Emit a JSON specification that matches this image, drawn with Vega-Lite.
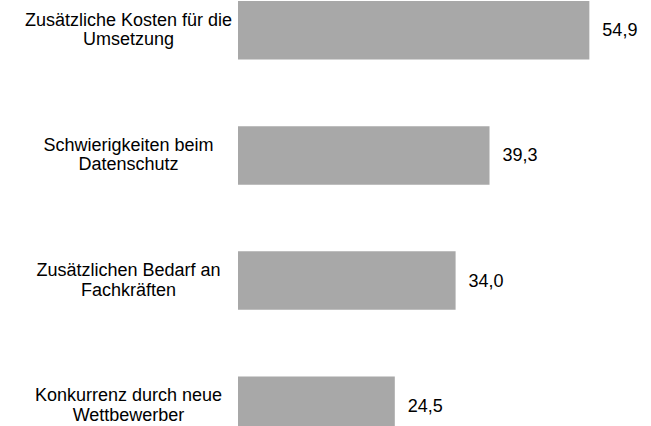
{
  "$schema": "https://vega.github.io/schema/vega-lite/v6.json",
  "width": 384,
  "height": 434,
  "autosize": {"type": "none"},
  "padding": {"left": 238, "top": 1, "right": 29, "bottom": 0},
  "background": "white",
  "data": {
    "values": [
      {"kategorie": "Zusätzliche Kosten für die\nUmsetzung", "wert": 54.9},
      {"kategorie": "Schwierigkeiten beim\nDatenschutz", "wert": 39.3},
      {"kategorie": "Zusätzlichen Bedarf an\nFachkräften", "wert": 34.0},
      {"kategorie": "Konkurrenz durch neue\nWettbewerber", "wert": 24.5}
    ]
  },
  "encoding": {
    "y": {
      "field": "kategorie",
      "type": "nominal",
      "sort": null,
      "scale": {"paddingInner": 0.533, "paddingOuter": 0},
      "axis": {
        "title": null,
        "ticks": false,
        "domain": false,
        "grid": false,
        "labelAlign": "center",
        "labelBaseline": "middle",
        "labelPadding": 110,
        "labelOffset": -9.5,
        "labelFont": "Liberation Sans",
        "labelFontSize": 18,
        "labelColor": "#000000",
        "labelLineHeight": 19.5,
        "labelLimit": 0,
        "labelExpr": "split(datum.label, '\\n')"
      }
    },
    "x": {
      "field": "wert",
      "type": "quantitative",
      "scale": {"domain": [0, 60]},
      "axis": null
    }
  },
  "layer": [
    {"mark": {"type": "bar", "color": "#a8a8a8"}},
    {
      "mark": {
        "type": "text",
        "align": "left",
        "baseline": "middle",
        "dx": 13,
        "dy": 1,
        "font": "Liberation Sans",
        "fontSize": 18,
        "color": "#000000"
      },
      "encoding": {
        "text": {"field": "wert", "type": "quantitative", "format": ".1f"}
      }
    }
  ],
  "config": {
    "view": {"stroke": null},
    "locale": {
      "number": {
        "decimal": ",",
        "thousands": ".",
        "grouping": [3],
        "currency": ["", " €"]
      }
    }
  }
}
